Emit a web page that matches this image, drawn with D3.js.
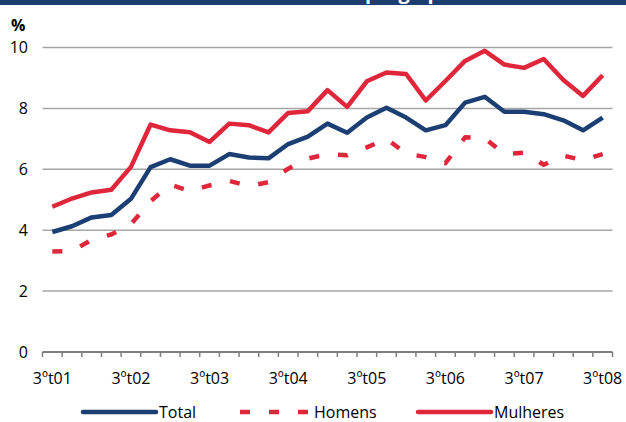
<!DOCTYPE html>
<html>
<head>
<meta charset="utf-8">
<script src="https://cdn.jsdelivr.net/npm/d3@7"></script>
<style>
  body { margin: 0; background: #fff; }
  text { font-family: "Open Sans", sans-serif; }
</style>
</head>
<body>
<script>
// quarters 3ºt01 .. 3ºt08
var quarters = ["3ºt01","4ºt01","1ºt02","2ºt02","3ºt02","4ºt02","1ºt03","2ºt03","3ºt03","4ºt03",
  "1ºt04","2ºt04","3ºt04","4ºt04","1ºt05","2ºt05","3ºt05","4ºt05","1ºt06","2ºt06",
  "3ºt06","4ºt06","1ºt07","2ºt07","3ºt07","4ºt07","1ºt08","2ºt08","3ºt08"];
var tickLabels = ["3ºt01","3ºt02","3ºt03","3ºt04","3ºt05","3ºt06","3ºt07","3ºt08"];
var total = [3.94, 4.13, 4.42, 4.50, 5.03, 6.07, 6.33, 6.12, 6.12, 6.50,
  6.39, 6.36, 6.83, 7.07, 7.50, 7.20, 7.70, 8.02, 7.70, 7.28,
  7.45, 8.19, 8.38, 7.89, 7.89, 7.81, 7.61, 7.28, 7.70];
var homens = [3.30, 3.32, 3.68, 3.86, 4.20, 4.95, 5.50, 5.28, 5.47, 5.62,
  5.45, 5.58, 6.02, 6.35, 6.50, 6.46, 6.72, 7.00, 6.52, 6.40,
  6.20, 7.05, 7.02, 6.50, 6.55, 6.15, 6.45, 6.30, 6.50];
var mulheres = [4.77, 5.04, 5.24, 5.33, 6.08, 7.47, 7.28, 7.22, 6.90, 7.50,
  7.45, 7.21, 7.85, 7.91, 8.60, 8.05, 8.89, 9.18, 9.13, 8.26,
  8.90, 9.56, 9.89, 9.44, 9.33, 9.62, 8.93, 8.41, 9.09];
var yTicks = [0, 2, 4, 6, 8, 10];

var width = 626, height = 422;
var navy = "#1b3f73", red = "#e0263b";

var svg = d3.select("body").append("svg")
    .attr("width", width)
    .attr("height", height);

// banner at the top (title cut off, only descenders show)
svg.append("clipPath").attr("id", "band")
  .append("rect").attr("x", 0).attr("y", 0).attr("width", width).attr("height", 5);
svg.append("rect")
    .attr("x", 0).attr("y", 0).attr("width", width).attr("height", 5)
    .attr("fill", "#1b3d6f");
var title = svg.append("text")
    .attr("clip-path", "url(#band)")
    .attr("y", -1)
    .attr("fill", "#fff")
    .style("font-weight", "bold")
    .style("font-size", "20px")
    .text("Taxa de desemprego por sexo");
// place the first descender where the reference shows it
var pre = svg.append("text").style("font-weight", "bold").style("font-size", "20px").text("Taxa de desem");
var preW = pre.node().getComputedTextLength();
pre.remove();
title.attr("x", 370 - preW - 5);

var x = d3.scaleBand()
    .domain(quarters)
    .range([42.5, 612.5]);

var y = d3.scaleLinear()
    .domain([0, 10])
    .range([352, 47.5]);

// gridlines
svg.append("g").selectAll("line")
    .data(yTicks.filter(function(d) { return d > 0; }))
    .enter().append("line")
    .attr("x1", x.range()[0]).attr("x2", x.range()[1])
    .attr("y1", function(d) { return y(d); })
    .attr("y2", function(d) { return y(d); })
    .attr("stroke", "#a6a6a6")
    .attr("stroke-width", 1.5);

// y labels
var yAxis = d3.axisLeft(y).tickValues(yTicks).tickSize(0).tickPadding(14);
var gy = svg.append("g")
    .attr("transform", "translate(42,0)")
    .call(yAxis);
gy.select(".domain").remove();
gy.selectAll("text").style("font-size", "16px").attr("fill", "#000");

svg.append("text")
    .attr("x", 11).attr("y", 31)
    .style("font-size", "16px")
    .style("font-weight", "bold")
    .text("%");

// x axis: ticks at band edges, labels on 3rd quarters
var edges = quarters.map(function(q) { return x(q); }).concat([x.range()[1]]);
svg.append("g").selectAll("line")
    .data(edges)
    .enter().append("line")
    .attr("x1", function(d) { return d; })
    .attr("x2", function(d) { return d; })
    .attr("y1", y(0)).attr("y2", y(0) + 5)
    .attr("stroke", "#7f7f7f")
    .attr("stroke-width", 1.5);
svg.append("line")
    .attr("x1", x.range()[0]).attr("x2", x.range()[1])
    .attr("y1", y(0)).attr("y2", y(0))
    .attr("stroke", "#7f7f7f")
    .attr("stroke-width", 1.8);

var xAxis = d3.axisBottom(x).tickValues(tickLabels).tickSize(0).tickPadding(21);
var gx = svg.append("g")
    .attr("transform", "translate(0," + y(0) + ")")
    .call(xAxis);
gx.select(".domain").remove();
gx.selectAll("text").style("font-size", "16px").attr("fill", "#000");

// lines
var line = d3.line()
    .x(function(d, i) { return x(quarters[i]) + x.bandwidth() / 2; })
    .y(function(d) { return y(d); });

var series = [
  { name: "Total", values: total, color: navy, dash: null },
  { name: "Homens", values: homens, color: red, dash: "10,19" },
  { name: "Mulheres", values: mulheres, color: red, dash: null }
];

svg.append("g").selectAll("path")
    .data(series)
    .enter().append("path")
    .attr("d", function(d) { return line(d.values); })
    .attr("fill", "none")
    .attr("stroke", function(d) { return d.color; })
    .attr("stroke-width", 4.5)
    .attr("stroke-linejoin", "round")
    .attr("stroke-dasharray", function(d) { return d.dash; });

// legend
var legX = [83, 240, 418];
var leg = svg.append("g").selectAll("g")
    .data(series)
    .enter().append("g")
    .attr("transform", function(d, i) { return "translate(" + legX[i] + ",412)"; });
leg.append("line")
    .attr("x1", 0).attr("x2", function(d) { return d.dash ? 68 : 73; })
    .attr("y1", 0).attr("y2", 0)
    .attr("stroke", function(d) { return d.color; })
    .attr("stroke-width", 4.5)
    .attr("stroke-linecap", function(d) { return d.dash ? "butt" : "round"; })
    .attr("stroke-dasharray", function(d) { return d.dash; });
leg.append("text")
    .attr("x", function(d) { return d.dash ? 74 : 76; })
    .attr("y", 6)
    .style("font-size", "16px")
    .text(function(d) { return d.name; });
</script>
</body>
</html>
